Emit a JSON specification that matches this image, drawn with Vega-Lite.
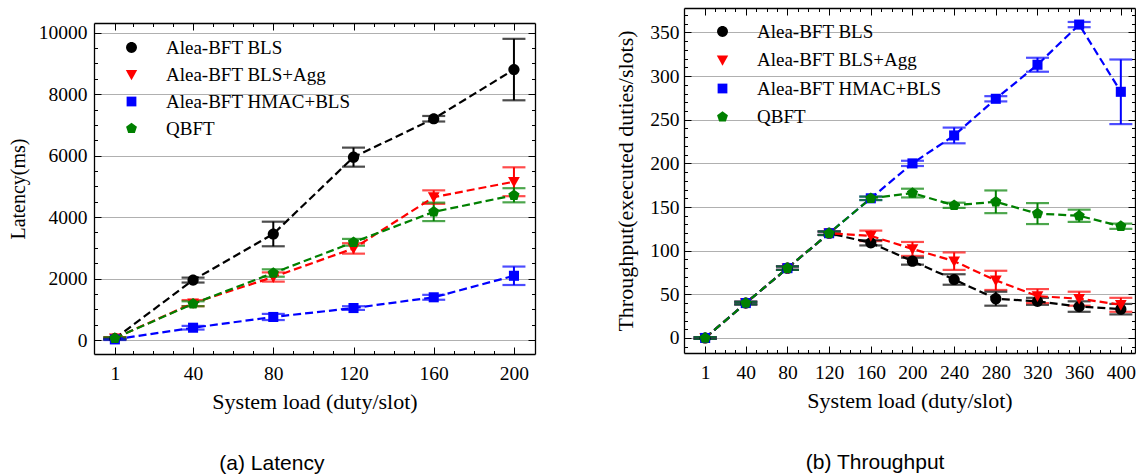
{
  "$schema": "https://vega.github.io/schema/vega-lite/v6.json",
  "padding": {"left": 8, "top": 4, "right": 0, "bottom": 0},
  "spacing": 78,
  "columns": 2,
  "config": {
    "font": "Liberation Serif",
    "view": {"stroke": null},
    "axis": {"domain": true, "domainColor": "black", "domainWidth": 1.3, "labelFont": "Liberation Serif", "labelFontSize": 19.5, "labelColor": "black", "titleFont": "Liberation Serif", "titleFontSize": 22, "titleFontWeight": "normal", "titleColor": "black", "tickColor": "black", "tickWidth": 1, "gridColor": "#b0b0b0", "gridWidth": 1, "labelOverlap": false, "labelFlush": false, "labelBound": false},
    "legend": {"orient": "none", "padding": 0, "labelFont": "Liberation Serif", "labelFontSize": 19, "labelColor": "black", "labelLimit": 0, "symbolSize": 118, "symbolOffset": 14, "labelOffset": 25, "rowPadding": 7, "symbolStrokeWidth": 0},
    "title": {"font": "Liberation Sans", "fontSize": 21, "fontWeight": "normal", "color": "black", "orient": "bottom", "anchor": "middle", "frame": "bounds", "offset": 41}
  },
  "datasets": {
    "lat": [
      {"series": "Alea-BFT BLS", "load": 1, "value": 50, "lo": 20, "hi": 80},
      {"series": "Alea-BFT BLS", "load": 40, "value": 1950, "lo": 1870, "hi": 2030},
      {"series": "Alea-BFT BLS", "load": 80, "value": 3450, "lo": 3050, "hi": 3850},
      {"series": "Alea-BFT BLS", "load": 120, "value": 5950, "lo": 5640, "hi": 6260},
      {"series": "Alea-BFT BLS", "load": 160, "value": 7200, "lo": 7110, "hi": 7290},
      {"series": "Alea-BFT BLS", "load": 200, "value": 8800, "lo": 7800, "hi": 9800},
      {"series": "Alea-BFT BLS+Agg", "load": 1, "value": 60, "lo": 30, "hi": 90},
      {"series": "Alea-BFT BLS+Agg", "load": 40, "value": 1200, "lo": 1100, "hi": 1300},
      {"series": "Alea-BFT BLS+Agg", "load": 80, "value": 2050, "lo": 1900, "hi": 2200},
      {"series": "Alea-BFT BLS+Agg", "load": 120, "value": 2980, "lo": 2810, "hi": 3150},
      {"series": "Alea-BFT BLS+Agg", "load": 160, "value": 4650, "lo": 4430, "hi": 4870},
      {"series": "Alea-BFT BLS+Agg", "load": 200, "value": 5150, "lo": 4680, "hi": 5620},
      {"series": "Alea-BFT HMAC+BLS", "load": 1, "value": 20, "lo": 0, "hi": 40},
      {"series": "Alea-BFT HMAC+BLS", "load": 40, "value": 400, "lo": 340, "hi": 460},
      {"series": "Alea-BFT HMAC+BLS", "load": 80, "value": 750, "lo": 650, "hi": 850},
      {"series": "Alea-BFT HMAC+BLS", "load": 120, "value": 1040, "lo": 980, "hi": 1100},
      {"series": "Alea-BFT HMAC+BLS", "load": 160, "value": 1390, "lo": 1310, "hi": 1470},
      {"series": "Alea-BFT HMAC+BLS", "load": 200, "value": 2090, "lo": 1790, "hi": 2390},
      {"series": "QBFT", "load": 1, "value": 60, "lo": 30, "hi": 90},
      {"series": "QBFT", "load": 40, "value": 1180, "lo": 1100, "hi": 1260},
      {"series": "QBFT", "load": 80, "value": 2180, "lo": 2060, "hi": 2300},
      {"series": "QBFT", "load": 120, "value": 3180, "lo": 3070, "hi": 3290},
      {"series": "QBFT", "load": 160, "value": 4170, "lo": 3870, "hi": 4470},
      {"series": "QBFT", "load": 200, "value": 4710, "lo": 4480, "hi": 4940}
    ],
    "thr": [
      {"series": "Alea-BFT BLS", "load": 1, "value": 0, "lo": -1, "hi": 1},
      {"series": "Alea-BFT BLS", "load": 40, "value": 40, "lo": 38.5, "hi": 41.5},
      {"series": "Alea-BFT BLS", "load": 80, "value": 80, "lo": 78, "hi": 82},
      {"series": "Alea-BFT BLS", "load": 120, "value": 120, "lo": 118, "hi": 122},
      {"series": "Alea-BFT BLS", "load": 160, "value": 109, "lo": 106, "hi": 112},
      {"series": "Alea-BFT BLS", "load": 200, "value": 88, "lo": 84, "hi": 92},
      {"series": "Alea-BFT BLS", "load": 240, "value": 67, "lo": 61, "hi": 73},
      {"series": "Alea-BFT BLS", "load": 280, "value": 45, "lo": 37, "hi": 53},
      {"series": "Alea-BFT BLS", "load": 320, "value": 42, "lo": 38, "hi": 46},
      {"series": "Alea-BFT BLS", "load": 360, "value": 36, "lo": 30, "hi": 42},
      {"series": "Alea-BFT BLS", "load": 400, "value": 33, "lo": 27, "hi": 39},
      {"series": "Alea-BFT BLS+Agg", "load": 1, "value": 0, "lo": -1, "hi": 1},
      {"series": "Alea-BFT BLS+Agg", "load": 40, "value": 40, "lo": 38.5, "hi": 41.5},
      {"series": "Alea-BFT BLS+Agg", "load": 80, "value": 80, "lo": 78, "hi": 82},
      {"series": "Alea-BFT BLS+Agg", "load": 120, "value": 120, "lo": 118, "hi": 122},
      {"series": "Alea-BFT BLS+Agg", "load": 160, "value": 117, "lo": 111, "hi": 123},
      {"series": "Alea-BFT BLS+Agg", "load": 200, "value": 102, "lo": 94, "hi": 110},
      {"series": "Alea-BFT BLS+Agg", "load": 240, "value": 88, "lo": 78, "hi": 98},
      {"series": "Alea-BFT BLS+Agg", "load": 280, "value": 66, "lo": 55, "hi": 77},
      {"series": "Alea-BFT BLS+Agg", "load": 320, "value": 48, "lo": 40, "hi": 56},
      {"series": "Alea-BFT BLS+Agg", "load": 360, "value": 45, "lo": 37, "hi": 53},
      {"series": "Alea-BFT BLS+Agg", "load": 400, "value": 38, "lo": 30, "hi": 46},
      {"series": "Alea-BFT HMAC+BLS", "load": 1, "value": 0, "lo": -1, "hi": 1},
      {"series": "Alea-BFT HMAC+BLS", "load": 40, "value": 40, "lo": 38.5, "hi": 41.5},
      {"series": "Alea-BFT HMAC+BLS", "load": 80, "value": 80, "lo": 78, "hi": 82},
      {"series": "Alea-BFT HMAC+BLS", "load": 120, "value": 120, "lo": 118, "hi": 122},
      {"series": "Alea-BFT HMAC+BLS", "load": 160, "value": 160, "lo": 158, "hi": 162},
      {"series": "Alea-BFT HMAC+BLS", "load": 200, "value": 200, "lo": 197, "hi": 203},
      {"series": "Alea-BFT HMAC+BLS", "load": 240, "value": 232, "lo": 223, "hi": 241},
      {"series": "Alea-BFT HMAC+BLS", "load": 280, "value": 274, "lo": 271, "hi": 277},
      {"series": "Alea-BFT HMAC+BLS", "load": 320, "value": 313, "lo": 305, "hi": 321},
      {"series": "Alea-BFT HMAC+BLS", "load": 360, "value": 359, "lo": 356, "hi": 362},
      {"series": "Alea-BFT HMAC+BLS", "load": 400, "value": 282, "lo": 245, "hi": 319},
      {"series": "QBFT", "load": 1, "value": 0, "lo": -1, "hi": 1},
      {"series": "QBFT", "load": 40, "value": 40, "lo": 38.5, "hi": 41.5},
      {"series": "QBFT", "load": 80, "value": 80, "lo": 78, "hi": 82},
      {"series": "QBFT", "load": 120, "value": 120, "lo": 118, "hi": 122},
      {"series": "QBFT", "load": 160, "value": 160, "lo": 158, "hi": 162},
      {"series": "QBFT", "load": 200, "value": 166, "lo": 161, "hi": 171},
      {"series": "QBFT", "load": 240, "value": 152, "lo": 149, "hi": 155},
      {"series": "QBFT", "load": 280, "value": 156, "lo": 143, "hi": 169},
      {"series": "QBFT", "load": 320, "value": 142.5, "lo": 130.5, "hi": 154.5},
      {"series": "QBFT", "load": 360, "value": 140, "lo": 133, "hi": 147},
      {"series": "QBFT", "load": 400, "value": 128, "lo": 125, "hi": 131}
    ]
  },
  "resolve": {"scale": {"color": "independent", "shape": "independent"}, "legend": {"color": "independent", "shape": "independent"}},
  "concat": [
    {
      "width": 441,
      "height": 346,
      "data": {"name": "lat"},
      "title": {"text": "(a) Latency"},
      "resolve": {"axis": {"x": "independent", "y": "independent"}},
      "layer": [
        {
          "mark": {"type": "rule", "strokeWidth": 2},
          "encoding": {
            "x": {"field": "load", "type": "quantitative", "scale": {"domain": [-9.4, 210.5], "nice": false, "zero": false},
              "axis": {"orient": "bottom", "title": "System load (duty/slot)", "grid": false, "values": [1,10,20,30,40,50,60,70,80,90,100,110,120,130,140,150,160,170,180,190,200],
                "tickSize": {"condition": {"test": "indexof([1,40,80,120,160,200], datum.value) >= 0", "value": -7}, "value": -3.5},
                "labelExpr": "indexof([1,40,80,120,160,200], datum.value) >= 0 ? datum.label : ''", "labelPadding": 17, "titlePadding": 5}},
            "y": {"field": "lo", "type": "quantitative", "scale": {"domain": [-455, 10315], "range": [346, 15], "nice": false, "zero": false},
              "axis": {"orient": "left", "title": "Latency(ms)", "titleFontSize": 20, "format": "d", "values": [0,500,1000,1500,2000,2500,3000,3500,4000,4500,5000,5500,6000,6500,7000,7500,8000,8500,9000,9500,10000],
                "grid": true, "gridOpacity": {"condition": {"test": "datum.value % 2000 === 0", "value": 1}, "value": 0},
                "tickSize": {"condition": {"test": "datum.value % 2000 === 0", "value": -7}, "value": -3.5},
                "labelExpr": "datum.value % 2000 === 0 ? datum.label : ''", "labelPadding": 14, "titlePadding": 10}},
            "y2": {"field": "hi"},
            "stroke": {"field": "series", "type": "nominal", "scale": {"domain": ["Alea-BFT BLS", "Alea-BFT BLS+Agg", "Alea-BFT HMAC+BLS", "QBFT"], "range": ["black", "red", "blue", "green"]}, "legend": null}
          }
        },
        {
          "mark": {"type": "tick", "orient": "horizontal", "size": 23, "thickness": 2.2},
          "encoding": {
            "x": {"field": "load", "type": "quantitative",
              "axis": {"orient": "top", "offset": -15, "title": null, "labels": false, "grid": false, "minExtent": 0, "maxExtent": 0, "values": [1,10,20,30,40,50,60,70,80,90,100,110,120,130,140,150,160,170,180,190,200],
                "tickSize": {"condition": {"test": "indexof([1,40,80,120,160,200], datum.value) >= 0", "value": -7}, "value": -3.5}}},
            "y": {"field": "lo", "type": "quantitative",
              "axis": {"orient": "right", "title": null, "labels": false, "grid": false, "minExtent": 0, "maxExtent": 0, "values": [0,500,1000,1500,2000,2500,3000,3500,4000,4500,5000,5500,6000,6500,7000,7500,8000,8500,9000,9500,10000],
                "tickSize": {"condition": {"test": "datum.value % 2000 === 0", "value": -7}, "value": -3.5}}},
            "fill": {"field": "series", "type": "nominal", "scale": {"domain": ["Alea-BFT BLS", "Alea-BFT BLS+Agg", "Alea-BFT HMAC+BLS", "QBFT"], "range": ["black", "red", "blue", "green"]}, "legend": null}
          }
        },
        {
          "mark": {"type": "tick", "orient": "horizontal", "size": 23, "thickness": 2.2},
          "encoding": {
            "x": {"field": "load", "type": "quantitative", "axis": null},
            "y": {"field": "hi", "type": "quantitative", "axis": null},
            "fill": {"field": "series", "type": "nominal", "legend": null}
          }
        },
        {
          "mark": {"type": "line", "strokeDash": [8, 4], "strokeWidth": 2.2},
          "encoding": {
            "x": {"field": "load", "type": "quantitative", "axis": null},
            "y": {"field": "value", "type": "quantitative", "axis": null},
            "stroke": {"field": "series", "type": "nominal", "legend": null}
          }
        },
        {
          "mark": {"type": "point", "filled": true, "opacity": 1, "size": 125},
          "encoding": {
            "x": {"field": "load", "type": "quantitative", "axis": null},
            "y": {"field": "value", "type": "quantitative", "axis": null},
            "shape": {"field": "series", "type": "nominal", "scale": {"domain": ["Alea-BFT BLS", "Alea-BFT BLS+Agg", "Alea-BFT HMAC+BLS", "QBFT"], "range": ["M1,0A1,1,0,1,1,-1,0A1,1,0,1,1,1,0Z", "M-1.05,-0.85H1.05L0,1.05Z", "M-0.9,-0.9H0.9V0.9H-0.9Z", "M0,-1.05L1,-0.32L0.62,0.85L-0.62,0.85L-1,-0.32Z"]}, "legend": null},
            "color": {"field": "series", "type": "nominal", "scale": {"domain": ["Alea-BFT BLS", "Alea-BFT BLS+Agg", "Alea-BFT HMAC+BLS", "QBFT"], "range": ["black", "red", "blue", "green"]},
              "legend": {"title": null, "legendX": 14, "legendY": 30, "encode": {"symbols": {
                "fillOpacity": {"value": 1}, "opacity": {"value": 1}, "strokeWidth": {"value": 0}}}}}
          }
        }
      ]
    },
    {
      "width": 451,
      "height": 345,
      "data": {"name": "thr"},
      "title": {"text": "(b) Throughput"},
      "resolve": {"axis": {"x": "independent", "y": "independent"}},
      "layer": [
        {
          "mark": {"type": "rule", "strokeWidth": 2},
          "encoding": {
            "x": {"field": "load", "type": "quantitative", "scale": {"domain": [-19.3, 413.6], "nice": false, "zero": false},
              "axis": {"orient": "bottom", "title": "System load (duty/slot)", "grid": false, "values": [1,10,20,30,40,50,60,70,80,90,100,110,120,130,140,150,160,170,180,190,200,210,220,230,240,250,260,270,280,290,300,310,320,330,340,350,360,370,380,390,400,410],
                "tickSize": {"condition": {"test": "indexof([1,40,80,120,160,200,240,280,320,360,400], datum.value) >= 0", "value": -7}, "value": -3.5},
                "labelExpr": "indexof([1,40,80,120,160,200,240,280,320,360,400], datum.value) >= 0 ? datum.label : ''", "labelPadding": 17, "titlePadding": 5}},
            "y": {"field": "lo", "type": "quantitative", "scale": {"domain": [-17.2, 378], "nice": false, "zero": false},
              "axis": {"orient": "left", "title": "Throughput(executed duties/slots)", "format": "d", "values": [-10,0,10,20,30,40,50,60,70,80,90,100,110,120,130,140,150,160,170,180,190,200,210,220,230,240,250,260,270,280,290,300,310,320,330,340,350,360,370],
                "grid": true, "gridOpacity": {"condition": {"test": "datum.value % 50 === 0", "value": 1}, "value": 0},
                "tickSize": {"condition": {"test": "datum.value % 50 === 0", "value": -7}, "value": -3.5},
                "labelExpr": "datum.value % 50 === 0 ? datum.label : ''", "labelPadding": 12, "titlePadding": 12}},
            "y2": {"field": "hi"},
            "stroke": {"field": "series", "type": "nominal", "scale": {"domain": ["Alea-BFT BLS", "Alea-BFT BLS+Agg", "Alea-BFT HMAC+BLS", "QBFT"], "range": ["black", "red", "blue", "green"]}, "legend": null}
          }
        },
        {
          "mark": {"type": "tick", "orient": "horizontal", "size": 23, "thickness": 2.2},
          "encoding": {
            "x": {"field": "load", "type": "quantitative",
              "axis": {"orient": "top", "title": null, "labels": false, "grid": false, "minExtent": 0, "maxExtent": 0, "values": [1,10,20,30,40,50,60,70,80,90,100,110,120,130,140,150,160,170,180,190,200,210,220,230,240,250,260,270,280,290,300,310,320,330,340,350,360,370,380,390,400,410],
                "tickSize": {"condition": {"test": "indexof([1,40,80,120,160,200,240,280,320,360,400], datum.value) >= 0", "value": -7}, "value": -3.5}}},
            "y": {"field": "lo", "type": "quantitative",
              "axis": {"orient": "right", "title": null, "labels": false, "grid": false, "minExtent": 0, "maxExtent": 0, "values": [-10,0,10,20,30,40,50,60,70,80,90,100,110,120,130,140,150,160,170,180,190,200,210,220,230,240,250,260,270,280,290,300,310,320,330,340,350,360,370],
                "tickSize": {"condition": {"test": "datum.value % 50 === 0", "value": -7}, "value": -3.5}}},
            "fill": {"field": "series", "type": "nominal", "scale": {"domain": ["Alea-BFT BLS", "Alea-BFT BLS+Agg", "Alea-BFT HMAC+BLS", "QBFT"], "range": ["black", "red", "blue", "green"]}, "legend": null}
          }
        },
        {
          "mark": {"type": "tick", "orient": "horizontal", "size": 23, "thickness": 2.2},
          "encoding": {
            "x": {"field": "load", "type": "quantitative", "axis": null},
            "y": {"field": "hi", "type": "quantitative", "axis": null},
            "fill": {"field": "series", "type": "nominal", "legend": null}
          }
        },
        {
          "mark": {"type": "line", "strokeDash": [8, 4], "strokeWidth": 2.2},
          "encoding": {
            "x": {"field": "load", "type": "quantitative", "axis": null},
            "y": {"field": "value", "type": "quantitative", "axis": null},
            "stroke": {"field": "series", "type": "nominal", "legend": null}
          }
        },
        {
          "mark": {"type": "point", "filled": true, "opacity": 1, "size": 125},
          "encoding": {
            "x": {"field": "load", "type": "quantitative", "axis": null},
            "y": {"field": "value", "type": "quantitative", "axis": null},
            "shape": {"field": "series", "type": "nominal", "scale": {"domain": ["Alea-BFT BLS", "Alea-BFT BLS+Agg", "Alea-BFT HMAC+BLS", "QBFT"], "range": ["M1,0A1,1,0,1,1,-1,0A1,1,0,1,1,1,0Z", "M-1.05,-0.85H1.05L0,1.05Z", "M-0.9,-0.9H0.9V0.9H-0.9Z", "M0,-1.05L1,-0.32L0.62,0.85L-0.62,0.85L-1,-0.32Z"]}, "legend": null},
            "color": {"field": "series", "type": "nominal", "scale": {"domain": ["Alea-BFT BLS", "Alea-BFT BLS+Agg", "Alea-BFT HMAC+BLS", "QBFT"], "range": ["black", "red", "blue", "green"]},
              "legend": {"title": null, "legendX": 15, "legendY": 14, "rowPadding": 8.5, "encode": {"symbols": {
                "fillOpacity": {"value": 1}, "opacity": {"value": 1}, "strokeWidth": {"value": 0}}}}}
          }
        }
      ]
    }
  ]
}
